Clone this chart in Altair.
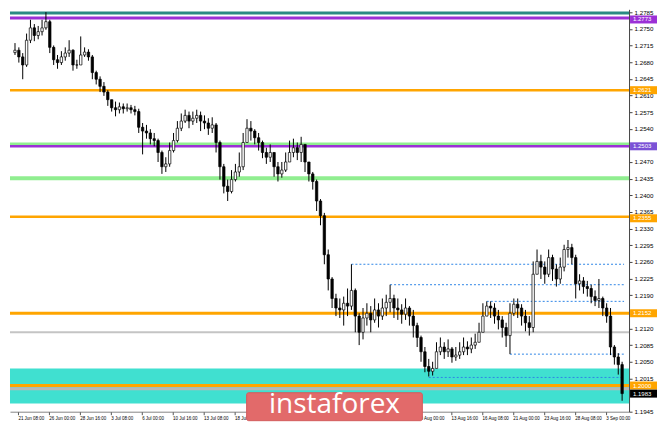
import altair as alt
import pandas as pd

# ---------------- data (prices in pips: 12705 -> 1.2705) ----------------
first_open = 12700
close_p = [12705, 12691, 12674, 12726, 12752, 12736, 12744, 12752, 12765, 12711,
           12685, 12679, 12691, 12699, 12705, 12674, 12674, 12695, 12701, 12691,
           12658, 12644, 12629, 12617, 12601, 12584, 12580, 12586, 12582, 12584,
           12580, 12576, 12543, 12535, 12531, 12519, 12515, 12490, 12460, 12466,
           12494, 12515, 12541, 12556, 12568, 12556, 12562, 12568, 12556, 12552,
           12541, 12548, 12511, 12460, 12419, 12408, 12433, 12449, 12460, 12511,
           12541, 12535, 12521, 12511, 12490, 12480, 12490, 12460, 12445, 12453,
           12470, 12490, 12500, 12490, 12507, 12470, 12445, 12429, 12388, 12357,
           12275, 12224, 12183, 12163, 12159, 12173, 12167, 12200, 12146, 12112,
           12142, 12152, 12138, 12159, 12146, 12163, 12175, 12183, 12163, 12159,
           12150, 12163, 12146, 12126, 12101, 12071, 12040, 12030, 12036, 12071,
           12081, 12071, 12077, 12060, 12064, 12071, 12081, 12077, 12085, 12091,
           12112, 12146, 12167, 12163, 12146, 12138, 12122, 12105, 12152, 12171,
           12163, 12146, 12132, 12122, 12234, 12261, 12249, 12234, 12269, 12245,
           12224, 12249, 12286, 12290, 12269, 12214, 12220, 12208, 12204, 12187,
           12179, 12183, 12163, 12146, 12081, 12060, 12044, 11983]
high_p = [12720, 12711, 12699, 12740, 12769, 12760, 12756, 12769, 12785, 12769,
          12715, 12695, 12703, 12711, 12726, 12707, 12685, 12734, 12711, 12707,
          12695, 12662, 12650, 12638, 12621, 12601, 12597, 12595, 12593, 12593,
          12590, 12588, 12582, 12552, 12548, 12539, 12531, 12519, 12494, 12480,
          12511, 12531, 12556, 12572, 12580, 12576, 12576, 12580, 12576, 12568,
          12562, 12564, 12552, 12515, 12466, 12433, 12453, 12466, 12490, 12531,
          12560, 12556, 12539, 12531, 12515, 12500, 12507, 12490, 12470, 12470,
          12490, 12515, 12519, 12511, 12523, 12507, 12470, 12449, 12433, 12392,
          12363, 12286, 12228, 12193, 12183, 12187, 12204, 12255, 12204, 12152,
          12163, 12173, 12167, 12183, 12173, 12183, 12191, 12212, 12191, 12183,
          12171, 12183, 12167, 12159, 12132, 12105, 12081, 12056, 12050, 12091,
          12101, 12091, 12097, 12081, 12081, 12091, 12101, 12093, 12101, 12109,
          12132, 12173, 12177, 12177, 12173, 12159, 12146, 12132, 12173, 12183,
          12183, 12171, 12159, 12146, 12261, 12286, 12275, 12261, 12286, 12275,
          12255, 12269, 12296, 12306, 12298, 12275, 12234, 12228, 12220, 12212,
          12200, 12224, 12187, 12173, 12163, 12085, 12068, 12050]
low_p = [12695, 12679, 12644, 12670, 12720, 12724, 12728, 12736, 12748, 12699,
         12674, 12666, 12674, 12683, 12691, 12662, 12666, 12674, 12691, 12683,
         12644, 12633, 12617, 12609, 12588, 12576, 12566, 12572, 12572, 12576,
         12572, 12568, 12531, 12486, 12519, 12507, 12503, 12470, 12445, 12449,
         12460, 12490, 12511, 12535, 12552, 12541, 12548, 12552, 12535, 12539,
         12527, 12531, 12490, 12433, 12404, 12388, 12404, 12429, 12439, 12453,
         12511, 12515, 12507, 12494, 12478, 12466, 12470, 12439, 12429, 12437,
         12449, 12470, 12480, 12474, 12470, 12449, 12429, 12412, 12367, 12337,
         12255, 12200, 12163, 12146, 12142, 12126, 12146, 12159, 12112, 12085,
         12097, 12126, 12112, 12132, 12122, 12138, 12146, 12154, 12142, 12138,
         12130, 12138, 12126, 12101, 12081, 12050, 12028, 12019, 12021, 12036,
         12064, 12056, 12060, 12048, 12052, 12056, 12064, 12064, 12068, 12077,
         12091, 12122, 12146, 12142, 12130, 12118, 12101, 12081, 12066, 12146,
         12142, 12126, 12114, 12105, 12112, 12234, 12224, 12214, 12228, 12220,
         12208, 12214, 12240, 12269, 12255, 12183, 12200, 12193, 12187, 12173,
         12167, 12163, 12146, 12132, 12064, 12044, 12023, 11968]

# time labels every 8 candles; the five slots under the logo are not visible in the source
x_labels = ["21 Jun 08:00", "26 Jun 00:00", "28 Jun 16:00", "3 Jul 08:00", "6 Jul 00:00",
            "10 Jul 16:00", "13 Jul 08:00", "18 Jul 00:00", "", "", "", "", "",
            "9 Aug 00:00", "13 Aug 16:00", "16 Aug 08:00", "21 Aug 00:00", "23 Aug 16:00",
            "28 Aug 08:00", "3 Sep 00:00"]
# price ticks (those covered by tag boxes in the source are left out)
y_ticks = [1.1945, 1.2015, 1.2050, 1.2085, 1.2120, 1.2190, 1.2225,
           1.2260, 1.2295, 1.2330, 1.2365, 1.2400, 1.2435, 1.2470, 1.2540,
           1.2575, 1.2610, 1.2645, 1.2680, 1.2715, 1.2750, 1.2785]

level_price = [1.2783, 1.2773, 1.2621, 1.2507, 1.2503, 1.2436, 1.2355, 1.2152, 1.2112, 1.2000, 1.1993]
dot_price = [1.2255, 1.2212, 1.2177, 1.2066, 1.2017]
dot_start = [87, 97, 122, 128, 107]
band_top, band_bottom = 1.2036, 1.1962
tag_price = [1.2773, 1.2621, 1.2503, 1.2355, 1.2152, 1.2000, 1.1983]

# ---------------- styles ----------------
level_color = ["#2a8a84", "#9b30d6", "#ffa500", "#90ee90", "#9b30d6", "#90ee90",
               "#ffa500", "#ffa500", "#c4c4c4", "#ffa500", "#b8b8b8"]
level_width = [3, 3, 2.5, 4, 2.5, 4, 2.5, 3, 2, 3, 3]
tag_color = ["#9b30d6", "#ffa500", "#7b52d6", "#ffa500", "#ffa500", "#ffa500", "#000000"]
tag_nudged = [True, False, False, True, False, False, False]   # pushed 1.5px down, clear of tick text

W, H = 620, 403
N = len(close_p)
opens = [first_open] + close_p[:-1]
candles = pd.DataFrame({
    "i": list(range(N)),
    "open": [v / 10000 for v in opens],
    "close": [v / 10000 for v in close_p],
    "high": [v / 10000 for v in high_p],
    "low": [v / 10000 for v in low_p],
})

xs = alt.Scale(domain=[0, N - 0.5], nice=False, zero=False)
ys = alt.Scale(domain=[1.1945, 1.2791], nice=False, zero=False)

x_tick_pos = [0.75 + 8 * k for k in range(len(x_labels)) if x_labels[k]]
label_expr = "[" + ",".join("'%s'" % s for s in x_labels) + "][round((datum.value - 0.75) / 8)]"

x_axis = alt.Axis(values=x_tick_pos, labelExpr=label_expr, labelAlign="left", labelPadding=1,
                  labelFontSize=4.5, labelFont="Liberation Sans", tickSize=3, grid=False,
                  title=None, labelOverlap=False, labelFlush=False, labelBound=False,
                  domainColor="#666", tickColor="#555", labelColor="#000", domainWidth=0.8)
y_axis = alt.Axis(orient="right", values=y_ticks, format=".4f", labelFontSize=6.2,
                  labelFont="Liberation Sans", tickSize=3, grid=False, title=None,
                  labelPadding=2, domainColor="#444", tickColor="#444", labelColor="#000",
                  labelOverlap=False, labelFlush=False, labelBound=False)

band = alt.Chart(pd.DataFrame({"top": [band_top], "bottom": [band_bottom]})).mark_rect(
    color="#40e0d0").encode(
    x=alt.value(0), x2=alt.value(W),
    y=alt.Y("top:Q", scale=ys, axis=y_axis), y2="bottom:Q")

levels = alt.Chart(pd.DataFrame({"p": level_price, "c": level_color, "w": level_width})).mark_rule().encode(
    y=alt.Y("p:Q", scale=ys, axis=y_axis),
    color=alt.Color("c:N", scale=None),
    strokeWidth=alt.StrokeWidth("w:Q", scale=None))

dots = alt.Chart(pd.DataFrame({"p": dot_price, "s": dot_start, "e": [N - 0.5] * len(dot_price)})).mark_rule(
    color="#2f86e6", strokeDash=[2, 2], strokeWidth=1).encode(
    x=alt.X("s:Q", scale=xs, axis=x_axis), x2="e:Q",
    y=alt.Y("p:Q", scale=ys, axis=y_axis))

wicks = alt.Chart(candles).mark_rule(color="black", strokeWidth=1, clip=True).encode(
    x=alt.X("i:Q", scale=xs, axis=x_axis),
    y=alt.Y("low:Q", scale=ys, axis=y_axis), y2="high:Q")

bodies = alt.Chart(candles).mark_bar(size=2.4, stroke="black", strokeWidth=0.7, clip=True).encode(
    x=alt.X("i:Q", scale=xs, axis=x_axis),
    y=alt.Y("open:Q", scale=ys, axis=y_axis), y2="close:Q",
    fill=alt.condition("datum.close > datum.open", alt.value("white"), alt.value("black")))

tags_df = pd.DataFrame({"p": tag_price, "c": tag_color, "n": tag_nudged,
                        "t": ["%.4f" % v for v in tag_price]})


def tag_layers(nudged, dy):
    base = alt.Chart(tags_df).transform_filter(
        "datum.n" if nudged else "!datum.n")
    box = base.mark_rect(yOffset=-4 + dy, y2Offset=4 + dy).encode(
        x=alt.value(W + 1), x2=alt.value(W + 28),
        y=alt.Y("p:Q", scale=ys, axis=y_axis), y2="p:Q",
        color=alt.Color("c:N", scale=None))
    txt = base.mark_text(align="left", baseline="middle", fontSize=6.0, dy=dy,
                         font="Liberation Sans", color="white").encode(
        x=alt.value(W + 4), y=alt.Y("p:Q", scale=ys, axis=y_axis), text="t:N")
    return [box, txt]


logo_box = alt.Chart(pd.DataFrame({"t": ["instaforex"]})).mark_rect(
    color="#e26a6a", cornerRadius=2, stroke="#d45c5c", strokeWidth=1).encode(
    x=alt.value(237), x2=alt.value(413), y=alt.value(384), y2=alt.value(412))
logo_text = alt.Chart(pd.DataFrame({"t": ["instaforex"]})).mark_text(
    fontSize=28, font="Open Sans", color="white", baseline="alphabetic", align="center").encode(
    x=alt.value(325), y=alt.value(404), text="t:N")

layers = [band, levels, dots, wicks, bodies] + tag_layers(False, 0) + tag_layers(True, 1.6) + [logo_box, logo_text]
chart = alt.layer(*layers).properties(
    width=W, height=H, background="white", padding=0
).configure_view(stroke=None)

chart.save("out.html", embed_options={"renderer": "svg", "actions": False})
